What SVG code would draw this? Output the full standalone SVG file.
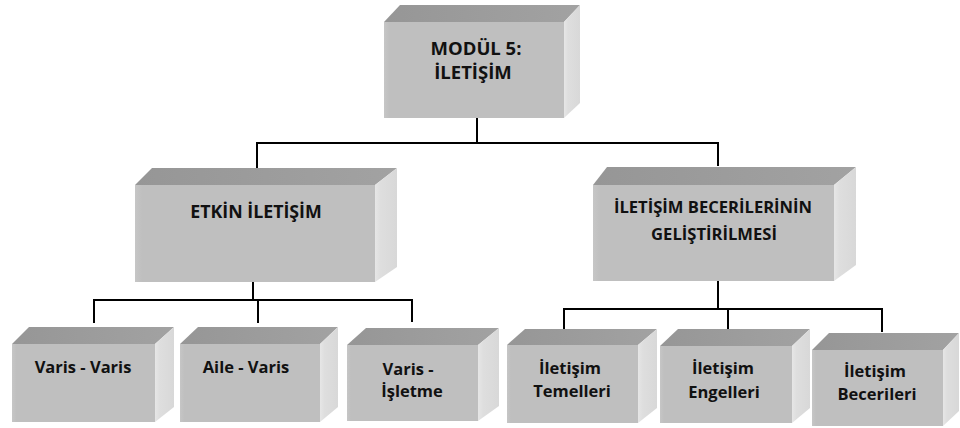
<svg xmlns="http://www.w3.org/2000/svg" width="960" height="428" viewBox="0 0 960 428">
<defs>
<linearGradient id="gTop" x1="0" y1="0" x2="1" y2="0">
<stop offset="0" stop-color="#969696"/><stop offset="1" stop-color="#a2a2a2"/>
</linearGradient>
<linearGradient id="gSide" x1="0" y1="0" x2="1" y2="0">
<stop offset="0" stop-color="#e6e6e6"/><stop offset="0.25" stop-color="#dedede"/><stop offset="1" stop-color="#d8d8d8"/>
</linearGradient>
<linearGradient id="gFront" x1="0" y1="0" x2="1" y2="0">
<stop offset="0" stop-color="#c6c6c6"/><stop offset="0.03" stop-color="#bfbfbf"/><stop offset="1" stop-color="#bfbfbf"/>
</linearGradient>
</defs>
<style>
.front{fill:url(#gFront);}
.top{fill:url(#gTop);}
.side{fill:url(#gSide);}
.t{font-family:"Open Sans","Liberation Sans",sans-serif;font-weight:700;fill:#111;text-anchor:middle;}
.c{fill:none;stroke:#000;stroke-width:2;}
</style>
<rect width="960" height="428" fill="#fff"/>

<g id="connectors">
<path class="c" d="M477,118V143M257,168V143H718V166"/>
<path class="c" d="M253,282V300M94,323V300H412V322M258,300V323"/>
<path class="c" d="M718,280V309M564,332V309H882V332M728,309V332"/>
</g>

<g id="n-modul">
<polygon class="top" points="384,22 400,5 580,5 564,22"/>
<polygon class="side" points="564,22 580,5 580,103 564,118"/>
<rect class="front" x="384" y="22" width="180" height="96"/>
<text class="t" x="476" y="55" font-size="18.5">MODÜL 5:</text>
<text class="t" x="473" y="79" font-size="18.5">İLETİŞİM</text>
</g>

<g id="n-etkin">
<polygon class="top" points="135,185 152,168 397,168 375,185"/>
<polygon class="side" points="375,185 397,168 397,267 375,282"/>
<rect class="front" x="135" y="185" width="240" height="97"/>
<text class="t" x="256" y="218" font-size="17.8">ETKİN İLETİŞİM</text>
</g>

<g id="n-beceri">
<polygon class="top" points="593,185 607,167 856,167 834,185"/>
<polygon class="side" points="834,185 856,167 856,265 834,281"/>
<rect class="front" x="593" y="185" width="241" height="96"/>
<text class="t" x="713" y="213" font-size="16.6">İLETİŞİM BECERİLERİNİN</text>
<text class="t" x="714" y="240" font-size="16.6">GELİŞTİRİLMESİ</text>
</g>

<g id="n-varis-varis">
<polygon class="top" points="12,344 29,327 174,327 155,344"/>
<polygon class="side" points="155,344 174,327 174,407 155,422"/>
<rect class="front" x="12" y="344" width="143" height="78"/>
<text class="t" x="83" y="373" font-size="16.5">Varis - Varis</text>
</g>

<g id="n-aile-varis">
<polygon class="top" points="180,344 198,327 338,327 320,344"/>
<polygon class="side" points="320,344 338,327 338,407 320,422"/>
<rect class="front" x="180" y="344" width="140" height="78"/>
<text class="t" x="246" y="373" font-size="16.5">Aile - Varis</text>
</g>

<g id="n-varis-isletme">
<polygon class="top" points="347,345 366,328 499,328 478,345"/>
<polygon class="side" points="478,345 499,328 499,406 478,421"/>
<rect class="front" x="347" y="345" width="131" height="76"/>
<text class="t" x="408" y="375" font-size="16.5">Varis -</text>
<text class="t" x="412" y="397" font-size="16.5">İşletme</text>
</g>

<g id="n-temelleri">
<polygon class="top" points="507,345 525,329 657,329 638,345"/>
<polygon class="side" points="638,345 657,329 657,408 638,423"/>
<rect class="front" x="507" y="345" width="131" height="78"/>
<text class="t" x="570" y="374" font-size="16.5">İletişim</text>
<text class="t" x="572" y="397" font-size="16.5">Temelleri</text>
</g>

<g id="n-engelleri">
<polygon class="top" points="660,346 678,329 810,329 792,346"/>
<polygon class="side" points="792,346 810,329 810,408 792,423"/>
<rect class="front" x="660" y="346" width="132" height="77"/>
<text class="t" x="723" y="374" font-size="16.5">İletişim</text>
<text class="t" x="724" y="398" font-size="16.5">Engelleri</text>
</g>

<g id="n-becerileri">
<polygon class="top" points="812,350 829,333 959,333 943,350"/>
<polygon class="side" points="943,350 959,333 959,411 943,426"/>
<rect class="front" x="812" y="350" width="131" height="76"/>
<text class="t" x="875" y="377" font-size="16.5">İletişim</text>
<text class="t" x="877" y="400" font-size="16.5">Becerileri</text>
</g>
</svg>
